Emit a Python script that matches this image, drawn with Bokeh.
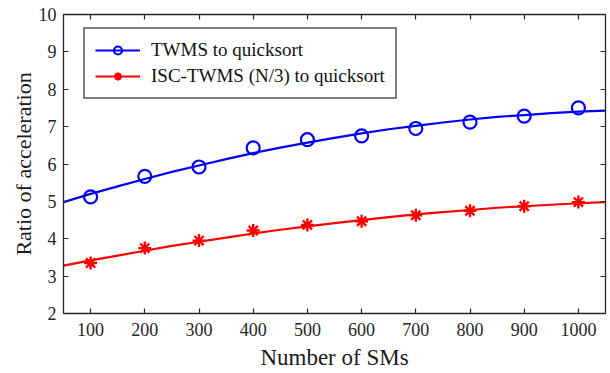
from bokeh.plotting import figure
from bokeh.models import LinearAxis, FixedTicker, Range1d, Legend, LegendItem
from bokeh.embed import file_html
from bokeh.resources import INLINE

# Measured points
sms = [100, 200, 300, 400, 500, 600, 700, 800, 900, 1000]
twms = [5.12, 5.67, 5.92, 6.43, 6.65, 6.75, 6.95, 7.12, 7.28, 7.50]
isc_twms = [3.35, 3.75, 3.95, 4.22, 4.37, 4.47, 4.63, 4.75, 4.87, 4.98]

# Fitted trend curves
curve_x = [50, 100, 150, 200, 250, 300, 350, 400, 450, 500, 550,
           600, 650, 700, 750, 800, 850, 900, 950, 1000, 1050]
twms_fit = [4.98, 5.20, 5.40, 5.60, 5.79, 5.96, 6.13, 6.29, 6.44, 6.57, 6.70,
            6.82, 6.93, 7.02, 7.11, 7.19, 7.26, 7.31, 7.36, 7.40, 7.43]
isc_fit = [3.28, 3.42, 3.55, 3.68, 3.81, 3.92, 4.03, 4.14, 4.24, 4.33, 4.42,
           4.50, 4.58, 4.65, 4.71, 4.77, 4.83, 4.87, 4.91, 4.95, 4.98]

x_ticks = [100, 200, 300, 400, 500, 600, 700, 800, 900, 1000]
y_ticks = [2, 3, 4, 5, 6, 7, 8, 9, 10]

FONT = "Liberation Serif"
AX = "#262626"

p = figure(width=610, height=373, output_backend="svg", toolbar_location=None,
           x_range=Range1d(50, 1050), y_range=Range1d(2, 10),
           min_border_left=63, min_border_right=5, min_border_top=14,
           min_border_bottom=60, background_fill_color="white",
           border_fill_color="white")
p.xgrid.visible = False
p.ygrid.visible = False
p.outline_line_color = None

def style_axis(ax, labels=True):
    ax.axis_line_color = AX
    ax.axis_line_width = 1.3
    ax.major_tick_line_color = AX
    ax.major_tick_line_width = 1.2
    ax.major_tick_in = 5
    ax.major_tick_out = 0
    ax.minor_tick_line_color = None
    ax.major_label_text_font = FONT
    ax.major_label_text_color = AX
    ax.axis_label_text_font = FONT
    ax.axis_label_text_color = "#1a1a1a"
    ax.axis_label_text_font_style = "normal"
    if labels:
        ax.major_label_text_font_size = "18px"
        ax.axis_label_text_font_size = "22px"
    else:
        ax.major_label_text_font_size = "0px"
        ax.major_label_text_color = None

p.xaxis.ticker = FixedTicker(ticks=x_ticks)
p.yaxis.ticker = FixedTicker(ticks=y_ticks)
p.xaxis.axis_label = "Number of SMs"
p.yaxis.axis_label = "Ratio of acceleration"
style_axis(p.xaxis[0])
style_axis(p.yaxis[0])
p.xaxis.axis_label_text_font_size = "23px"
p.xaxis.major_label_standoff = 9
p.xaxis.axis_label_standoff = 6
p.yaxis.major_label_standoff = 7
p.yaxis.axis_label_standoff = 0

top_ax = LinearAxis(ticker=FixedTicker(ticks=x_ticks))
style_axis(top_ax, labels=False)
p.add_layout(top_ax, "above")
right_ax = LinearAxis(ticker=FixedTicker(ticks=y_ticks))
style_axis(right_ax, labels=False)
p.add_layout(right_ax, "right")

BLUE = "#0000FF"
RED = "#FF0000"

l1 = p.line(curve_x, twms_fit, line_color=BLUE, line_width=2.2)
s1 = p.scatter(sms, twms, marker="circle", size=13, fill_color=None,
               line_color=BLUE, line_width=2.2)
l2 = p.line(curve_x, isc_fit, line_color=RED, line_width=2.2)
s2 = p.scatter(sms, isc_twms, marker="asterisk", size=13,
               line_color=RED, line_width=2.4)

legend = Legend(items=[
    LegendItem(label="TWMS to quicksort", renderers=[l1, s1]),
    LegendItem(label="ISC-TWMS (N/3) to quicksort", renderers=[l2, s2]),
], location=(20, 214))
legend.label_text_font = FONT
legend.label_text_font_size = "19px"
legend.label_text_color = "#111111"
legend.border_line_color = "black"
legend.border_line_width = 2
legend.background_fill_color = "white"
legend.background_fill_alpha = 1.0
legend.padding = 10
legend.spacing = 4
legend.margin = 0
legend.glyph_width = 45
legend.glyph_height = 20
legend.label_height = 20
legend.label_standoff = 11
p.add_layout(legend, "center")

open("out.html", "w").write(file_html(p, INLINE))
